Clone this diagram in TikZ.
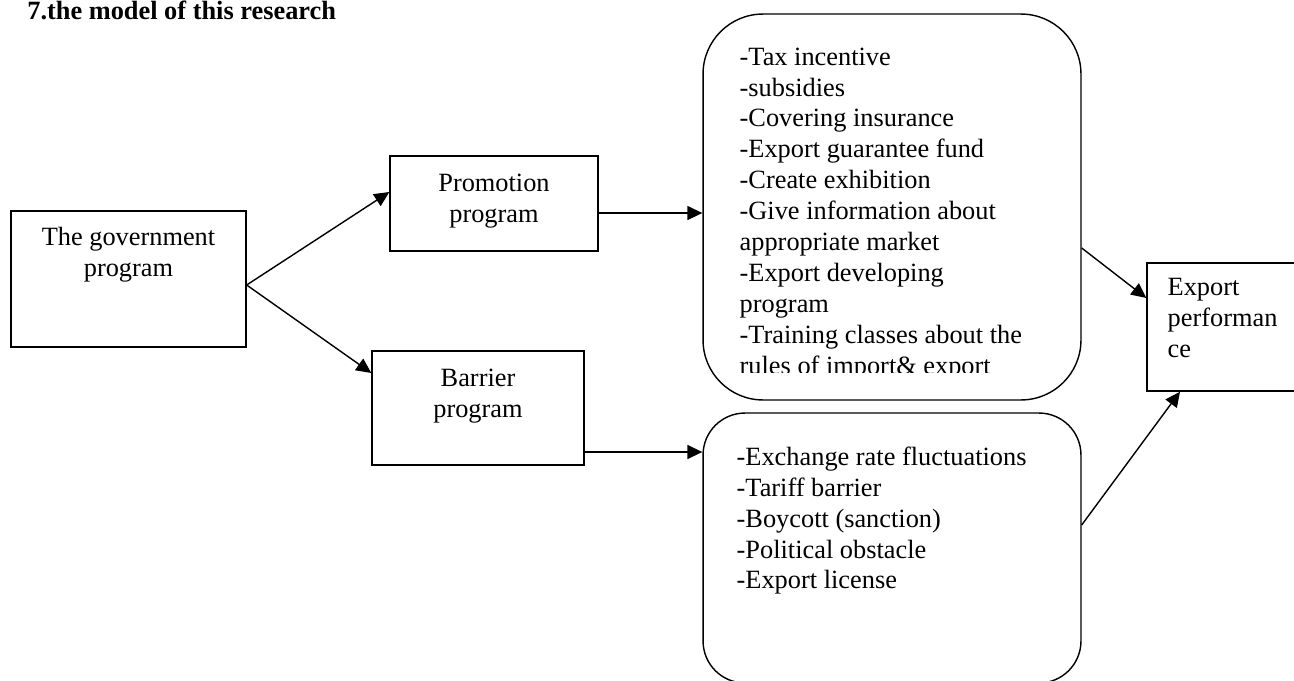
\documentclass[tikz,border=0pt]{standalone}
\usepackage{fontspec}
\setmainfont{Liberation Serif}
\usetikzlibrary{positioning,arrows.meta}

\begin{document}
\begin{tikzpicture}[
    x=0.02cm, y=-0.02cm,
    every node/.style={font=\fontsize{15}{17.6}\selectfont},
    box/.style={draw, line width=0.8pt, inner sep=0pt},
    listbox/.style={box, rounded corners=#1},
    txt/.style={inner sep=0pt, align=center},
    ltxt/.style={inner sep=0pt, align=left},
    arr/.style={-{Triangle[length=0.3cm, width=0.28cm]}, line width=0.8pt}
]
    \useasboundingbox (0,0) rectangle (1294,680);
    \clip (0,0) rectangle (1294,680);

    % Title
    \node[anchor=base west, inner sep=0pt, font=\fontsize{15}{17.6}\selectfont\bfseries] (title) at (27,19) {7.the model of this research};

    % Boxes
    \node[box, minimum width=4.7cm, minimum height=2.72cm] (gov) at (128.5,279) {};
    \node[box, minimum width=4.16cm, minimum height=1.9cm] (promo) at (494,203.5) {};
    \node[box, minimum width=4.24cm, minimum height=2.28cm] (barrier) at (478,408) {};
    \node[listbox=1.2cm, minimum width=7.56cm, minimum height=7.72cm] (measures) at (892,207) {};
    \node[listbox=0.84cm, minimum width=7.56cm, minimum height=5.4cm] (obstacles) at (892,548) {};
    \node[box, minimum width=3.06cm, minimum height=2.56cm] (perf) at (1223.5,327) {};

    % Texts
    \node[txt, below=0.34cm of gov.north] (govtxt) {The government\\program};
    \node[txt, below=0.36cm of promo.north] (promotxt) {Promotion\\program};
    \node[txt, below=0.36cm of barrier.north] (barriertxt) {Barrier\\program};
    \node[ltxt, below right=0.32cm and 0.42cm of perf.north west] (perftxt) {Export\\performan\\ce};
    \begin{scope}
        \clip (703,14) rectangle (1081,372);
        \node[ltxt, below right=0.68cm and 0.74cm of measures.north west] (measurestxt) {-Tax incentive\\
            -subsidies\\
            -Covering insurance\\
            -Export guarantee fund\\
            -Create exhibition\\
            -Give information about\\
            appropriate market\\
            -Export developing\\
            program\\
            -Training classes about the\\
            rules of import\& export};
    \end{scope}
    \node[ltxt, below right=0.68cm and 0.68cm of obstacles.north west] (obstaclestxt) {-Exchange rate fluctuations\\
        -Tariff barrier\\
        -Boycott (sanction)\\
        -Political obstacle\\
        -Export license};

    % Arrows
    \coordinate (split) at ([yshift=-0.12cm]gov.east);
    \draw[arr] (split) -- ([yshift=0.23cm]promo.west);
    \draw[arr] (split) -- ([yshift=0.7cm]barrier.west);

    \coordinate (pout) at ([yshift=-0.19cm]promo.east);
    \draw[arr] (pout) -- (pout -| measures.west);
    \coordinate (bout) at ([yshift=-0.88cm]barrier.east);
    \draw[arr] (bout) -- (bout -| obstacles.west);

    \draw[arr] ([yshift=-0.82cm]measures.east) -- ([yshift=0.58cm]perf.west);
    \draw[arr] ([yshift=0.46cm]obstacles.east) -- ([xshift=-0.87cm]perf.south);
\end{tikzpicture}
\end{document}
